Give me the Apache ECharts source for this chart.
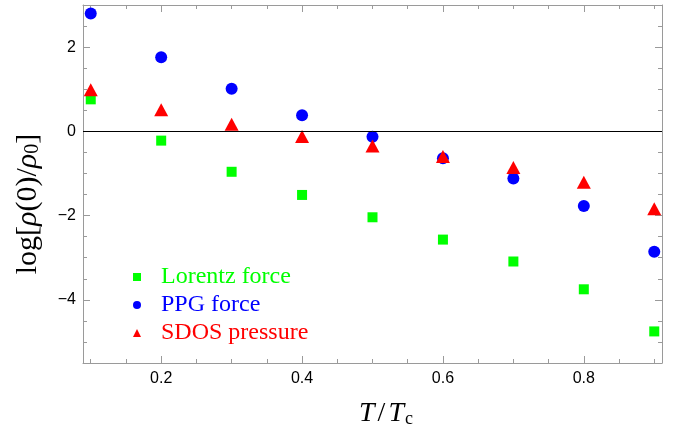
<!DOCTYPE html>
<html><head><meta charset="utf-8">
<script src="https://cdn.jsdelivr.net/npm/echarts@6/dist/echarts.min.js"></script>
<style>html,body{margin:0;padding:0;background:#fff}#c{width:690px;height:437px}</style>
</head><body><div id="c"></div>
<script>
// ---- data ----
const xValues = [0.1, 0.2, 0.3, 0.4, 0.5, 0.6, 0.7, 0.8, 0.9];
const lorentzForce = [0.76, -0.22, -0.96, -1.51, -2.04, -2.57, -3.09, -3.75, -4.75];
const ppgForce = [2.80, 1.76, 1.01, 0.385, -0.13, -0.64, -1.12, -1.77, -2.86];
const sdosPressure = [0.99, 0.51, 0.17, -0.12, -0.35, -0.60, -0.86, -1.21, -1.84];
const seriesNames = ['Lorentz force', 'PPG force', 'SDOS pressure'];
const xTickLabels = [0.2, 0.4, 0.6, 0.8];
const xMinorTicks = [0.1, 0.15, 0.25, 0.3, 0.35, 0.45, 0.5, 0.55, 0.65, 0.7, 0.75, 0.85, 0.9];
const yTickLabels = [-4, -2, 0, 2];
const yMinorTicks = [-5, -4.5, -3.5, -3, -2.5, -1.5, -1, -0.5, 0.5, 1, 1.5, 2.5];
const xRange = [0.089, 0.911];
const yRange = [-5.5, 3];

const frameColor = '#9a9a9a';
const green = '#00ff00', blue = '#0000ff', red = '#ff0000';
const pair = (xs, ys) => xs.map((x, i) => [x, ys[i]]);
const fmtY = v => v < 0 ? '\u2212' + Math.abs(v) : String(v);

function xAx(pos, ticks, len, showLine, showLabel) {
  return {
    type: 'value', position: pos, min: xRange[0], max: xRange[1],
    axisLine: { show: showLine, onZero: false, lineStyle: { color: frameColor, width: 1 } },
    axisTick: { show: true, inside: true, length: len, customValues: ticks, lineStyle: { color: frameColor } },
    axisLabel: { show: showLabel, customValues: xTickLabels, formatter: v => v.toFixed(1),
      fontFamily: 'Liberation Sans', fontSize: 16, color: '#000', margin: 8 },
    splitLine: { show: false }
  };
}
function yAx(pos, ticks, len, showLine, showLabel) {
  return {
    type: 'value', position: pos, min: yRange[0], max: yRange[1],
    axisLine: { show: showLine, onZero: false, lineStyle: { color: frameColor, width: 1 } },
    axisTick: { show: true, inside: true, length: len, customValues: ticks, lineStyle: { color: frameColor } },
    axisLabel: { show: showLabel, customValues: yTickLabels, formatter: fmtY,
      fontFamily: 'Liberation Sans', fontSize: 16, color: '#000', margin: 7 },
    splitLine: { show: false }
  };
}

const chart = echarts.init(document.getElementById('c'), null, { renderer: 'canvas' });
const serif = 'Liberation Serif';
chart.setOption({
  animation: false,
  backgroundColor: '#fff',
  grid: { left: 83, right: 28, top: 5, bottom: 74, containLabel: false },
  xAxis: [
    xAx('bottom', xMinorTicks, 4, true, true),
    xAx('bottom', xTickLabels, 7, false, false),
    xAx('top', xMinorTicks, 4, true, false),
    xAx('top', xTickLabels, 7, false, false)
  ],
  yAxis: [
    yAx('left', yMinorTicks, 4, true, true),
    yAx('left', yTickLabels, 7, false, false),
    yAx('right', yMinorTicks, 4, true, false),
    yAx('right', yTickLabels, 7, false, false)
  ],
  legend: {
    orient: 'vertical', left: 128, top: 260,
    itemWidth: 8, itemHeight: 8, itemGap: 4,
    textStyle: { fontFamily: serif, fontSize: 24, lineHeight: 24, padding: [0, 0, 0, 15] },
    data: [
      { name: seriesNames[0], icon: 'rect', textStyle: { color: green } },
      { name: seriesNames[1], icon: 'circle', textStyle: { color: blue } },
      { name: seriesNames[2], icon: 'triangle', textStyle: { color: red } }
    ]
  },
  series: [
    { name: seriesNames[0], type: 'scatter', symbol: 'rect', symbolSize: 10,
      itemStyle: { color: green, opacity: 1 }, data: pair(xValues, lorentzForce),
      markLine: { silent: true, symbol: 'none', label: { show: false },
        lineStyle: { color: '#000', width: 1, type: 'solid' }, data: [{ yAxis: 0 }] } },
    { name: seriesNames[1], type: 'scatter', symbol: 'circle', symbolSize: 12,
      itemStyle: { color: blue, opacity: 1 }, data: pair(xValues, ppgForce) },
    { name: seriesNames[2], type: 'scatter', symbol: 'triangle', symbolSize: [14, 13],
      itemStyle: { color: red, opacity: 1 }, data: pair(xValues, sdosPressure) }
  ],
  graphic: [
    { type: 'text', x: 386, y: 414, silent: true,
      style: { text: '{i|T}{r|/}{i|T}{s|c}', align: 'center', verticalAlign: 'middle',
        rich: {
          i: { fontFamily: serif, fontStyle: 'italic', fontSize: 28, lineHeight: 28, verticalAlign: 'top', fill: '#000' },
          r: { fontFamily: serif, fontSize: 28, lineHeight: 28, verticalAlign: 'top', padding: [0, 3, 0, 3], fill: '#000' },
          s: { fontFamily: serif, fontSize: 18, lineHeight: 18, padding: [14, 0, 0, 1], verticalAlign: 'bottom', fill: '#000' }
        } } },
    { type: 'text', x: 28, y: 204, rotation: Math.PI / 2, silent: true,
      style: { text: '{r|log[}{i|ρ}{r|(0)/}{i|ρ}{s|0}{r|]}', align: 'center', verticalAlign: 'middle',
        rich: {
          i: { fontFamily: serif, fontStyle: 'italic', fontSize: 30, lineHeight: 30, verticalAlign: 'top', fill: '#000' },
          r: { fontFamily: serif, fontSize: 30, lineHeight: 30, verticalAlign: 'top', fill: '#000' },
          s: { fontFamily: serif, fontSize: 20, lineHeight: 20, padding: [14, 0, 0, 0], verticalAlign: 'bottom', fill: '#000' }
        } } }
  ]
});
</script></body></html>
